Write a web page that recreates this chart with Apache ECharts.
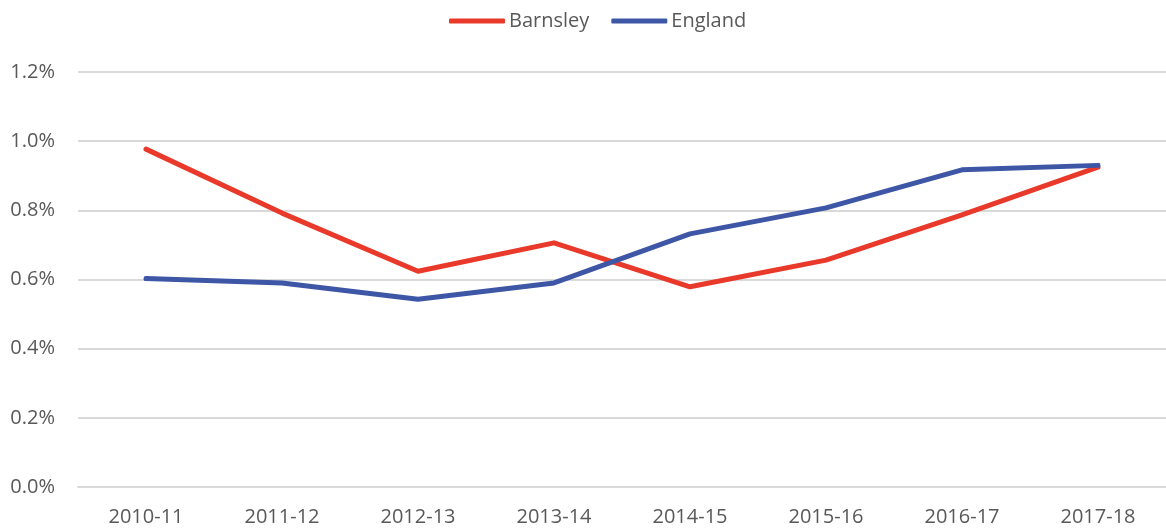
<!DOCTYPE html>
<html>
<head>
<meta charset="utf-8">
<script src="https://cdn.jsdelivr.net/npm/echarts@6/dist/echarts.min.js"></script>
<style>
  html, body { margin: 0; padding: 0; background: #fff; }
  #chart { width: 1166px; height: 530px; }
</style>
</head>
<body>
<div id="chart"></div>
<script>
const years = ['2010-11', '2011-12', '2012-13', '2013-14', '2014-15', '2015-16', '2016-17', '2017-18']
const barnsley = [0.977, 0.792, 0.624, 0.706, 0.579, 0.656, 0.787, 0.925]
const england = [0.603, 0.590, 0.543, 0.590, 0.732, 0.807, 0.917, 0.930]

const chart = echarts.init(document.getElementById('chart'))
const textColor = '#595959'
const font = 'Open Sans'

chart.setOption({
  animation: false,
  color: ['#E8392A', '#3E56A6'],
  legend: {
    top: 6,
    left: 444,
    itemWidth: 56,
    itemHeight: 5,
    itemGap: 22,
    icon: 'roundRect',
    textStyle: { color: textColor, fontSize: 20, fontFamily: font, padding: [0, 0, 0, -1] },
    data: ['Barnsley', 'England']
  },
  grid: { left: 78, right: -10, top: 72, bottom: 43, containLabel: false },
  xAxis: {
    type: 'category',
    data: years,
    boundaryGap: true,
    axisLine: { show: true, lineStyle: { color: '#d9d9d9', width: 2 } },
    axisTick: { show: false },
    axisLabel: { color: textColor, fontSize: 20, fontFamily: font, margin: 20 }
  },
  yAxis: {
    type: 'value',
    min: 0,
    max: 1.2,
    interval: 0.2,
    axisLine: { show: false },
    axisTick: { show: false },
    splitLine: { lineStyle: { color: '#d9d9d9', width: 2 } },
    axisLabel: {
      color: textColor, fontSize: 20, fontFamily: font, margin: 23,
      formatter: v => v.toFixed(1) + '%'
    }
  },
  series: [
    { name: 'Barnsley', type: 'line', data: barnsley, symbol: 'none',
      lineStyle: { width: 5, cap: 'round', join: 'round' } },
    { name: 'England', type: 'line', data: england, symbol: 'none',
      lineStyle: { width: 5, cap: 'round', join: 'round' } }
  ]
})
</script>
</body>
</html>
